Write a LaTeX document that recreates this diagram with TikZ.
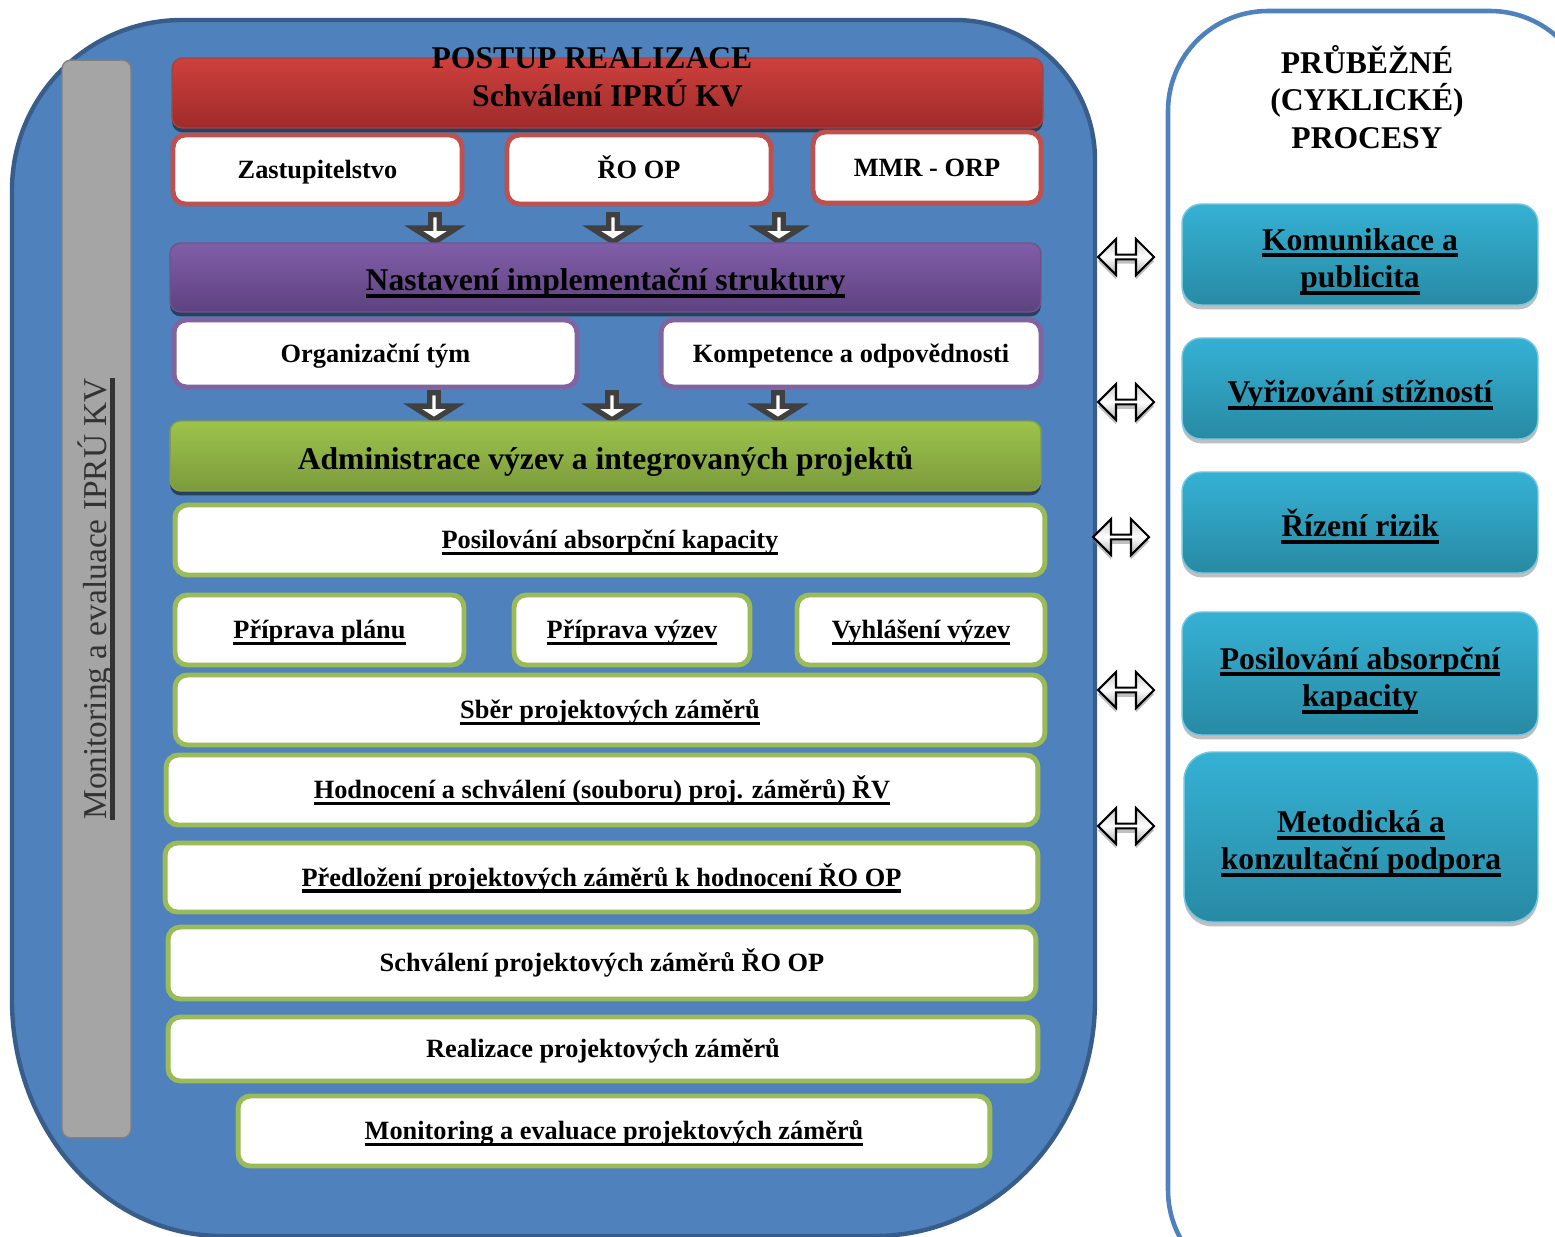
\documentclass[tikz,border=0pt]{standalone}
\usepackage{fontspec}
\setmainfont{Liberation Serif}
\usetikzlibrary{shapes.arrows,shadows}

\definecolor{bgblue}{RGB}{79,129,189}
\definecolor{bgborder}{RGB}{56,93,138}
\definecolor{redtop}{RGB}{206,64,61}
\definecolor{redbot}{RGB}{158,43,42}
\definecolor{redline}{RGB}{192,80,77}
\definecolor{purtop}{RGB}{128,94,168}
\definecolor{purbot}{RGB}{94,66,128}
\definecolor{purline}{RGB}{128,100,162}
\definecolor{grntop}{RGB}{157,196,76}
\definecolor{grnbot}{RGB}{124,154,60}
\definecolor{grnline}{RGB}{155,187,89}
\definecolor{cyantop}{RGB}{53,177,212}
\definecolor{cyanbot}{RGB}{40,138,164}
\definecolor{barfill}{RGB}{165,165,165}
\definecolor{arrowdark}{RGB}{64,64,64}

\newcommand{\undl}[1]{\leavevmode\setbox0\hbox{#1}\rlap{\rule[-0.23em]{\wd0}{0.13em}}\box0}
% fixed line height, so the text sits where the boxes want it
\newcommand{\tx}[1]{\vrule width 0pt height \txh depth \txd\relax\smash{#1}}

\begin{document}
\begin{tikzpicture}[x=0.02cm, y=-0.02cm, every text node part/.style={align=center},
bigtxt/.style={font=\fontsize{18}{21.3}\selectfont\bfseries},
headtxt/.style={font={\fontsize{18}{21.3}\selectfont\bfseries\def\txh{0.96em}\def\txd{0.12em}}},
cyantxt/.style={font={\fontsize{18}{21.3}\selectfont\bfseries\def\txh{0.98em}\def\txd{0.08em}}},
boxtxt/.style={font={\fontsize{15}{18}\selectfont\bfseries\def\txh{0.84em}\def\txd{0.16em}}},
lowshadow/.style={drop shadow={shadow xshift=0pt, shadow yshift=-2.5pt, opacity=0.5, fill=#1}},
lowshadow/.default=black,
headbox/.style={headtxt, rounded corners=6pt, minimum width=17.42cm, minimum height=1.4cm, line width=0.8pt, lowshadow},
redbox/.style={headbox, top color=redtop, bottom color=redbot, draw=redline!85!black},
purbox/.style={headbox, top color=purtop, bottom color=purbot, draw=purline!85!black, minimum height=1.38cm},
grnbox/.style={headbox, top color=grntop, bottom color=grnbot, draw=grnline!85!black},
whitebox/.style={boxtxt, fill=white, draw=#1, line width=2.8pt, rounded corners=7pt, minimum height=1.38cm},
cyanbox/.style={cyantxt, rounded corners=11pt, top color=cyantop, bottom color=cyanbot, draw=cyantop!70!white, line width=0.8pt, minimum width=7.12cm, lowshadow=gray},
downarr/.style={single arrow, shape border rotate=270, draw=arrowdark, fill=white, line width=3pt, minimum height=0.54cm, minimum width=0.86cm, single arrow head extend=0.22cm, single arrow tip angle=115, inner sep=0pt},
dblarr/.style={double arrow, draw=black, line width=1.2pt, top color=gray!40, bottom color=gray!65, middle color=white, minimum height=1.12cm, minimum width=0.72cm, double arrow head extend=0.14cm, inner sep=0pt, lowshadow=gray}]

\useasboundingbox (0,0) rectangle (1555,1237);
\clip (0,0) rectangle (1555,1237);

% big blue area
\draw[fill=bgblue, draw=bgborder, line width=2.5pt] (12,190) arc[start angle=180, end angle=270, radius=170] -- (955,20) arc[start angle=270, end angle=360, radius=140] -- (1095,1000) arc[start angle=0, end angle=90, x radius=220, y radius=236] -- (222,1236) arc[start angle=90, end angle=180, x radius=210, y radius=236] -- cycle;
% right panel
\draw[draw=bgblue, line width=2.6pt, fill=white, rounded corners=2cm] (1168,11) rectangle (1590,1290);

\node[rotate=90, fill=barfill, draw=gray, line width=0.8pt, rounded corners=5pt, minimum width=21.56cm, minimum height=1.38cm, font=\fontsize{19}{22}\selectfont, text=black!80] (bar) at (96.5,599) {\undl{Monitoring a evaluace IPRÚ KV}};

\node[redbox] (approve) at (607.5,93) {\tx{Schválení IPRÚ KV}};
\node[bigtxt] (title) at (592,58) {POSTUP REALIZACE};
\node[whitebox=redline, minimum width=5.78cm] (council) at (317.5,169.5) {\tx{Zastupitelstvo}};
\node[whitebox=redline, minimum width=5.28cm] (ro) at (639,169.5) {\tx{ŘO OP}};
\node[whitebox=redline, minimum width=4.56cm, minimum height=1.42cm] (mmr) at (927,167.5) {\tx{MMR - ORP}};
\foreach \x [count=\i] in {435,613,779}
  \node[downarr] (up\i) at (\x,227) {};

\node[purbox] (impl) at (605.5,277.5) {\tx{\undl{Nastavení implementační struktury}}};
\node[whitebox=purline, minimum width=8.06cm, minimum height=1.34cm] (team) at (375.5,353.5) {\tx{Organizační tým}};
\node[whitebox=purline, minimum width=7.6cm, minimum height=1.34cm] (compet) at (851,353.5) {\tx{Kompetence a odpovědnosti}};
\foreach \x [count=\i] in {434,612,778}
  \node[downarr] (mid\i) at (\x,405) {};

\node[grnbox] (admin) at (605.5,456) {\tx{Administrace výzev a integrovaných projektů}};
\node[whitebox=grnline, minimum width=17.4cm, minimum height=1.4cm] (capac) at (610,540) {\tx{\undl{Posilování absorpční kapacity}}};
\node[whitebox=grnline, minimum width=5.78cm, minimum height=1.4cm] (plan) at (319.5,630) {\tx{\undl{Příprava plánu}}};
\node[whitebox=grnline, minimum width=4.72cm, minimum height=1.4cm] (prep) at (632,630) {\tx{\undl{Příprava výzev}}};
\node[whitebox=grnline, minimum width=4.96cm, minimum height=1.4cm] (call) at (921,630) {\tx{\undl{Vyhlášení výzev}}};
\node[whitebox=grnline, minimum width=17.4cm, minimum height=1.4cm] (collect) at (610,710) {\tx{\undl{Sběr projektových záměrů}}};
\node[whitebox=grnline, minimum width=17.44cm, minimum height=1.4cm] (rate) at (602,790) {\tx{\undl{Hodnocení a schválení (souboru) proj. záměrů) ŘV}}};
\node[whitebox=grnline, minimum width=17.46cm, minimum height=1.38cm] (submit) at (601.5,877.5) {\tx{\undl{Předložení projektových záměrů k hodnocení ŘO OP}}};
\node[whitebox=grnline, minimum width=17.36cm, minimum height=1.44cm] (accept) at (602,963) {\tx{Schválení projektových záměrů ŘO OP}};
\node[whitebox=grnline, minimum width=17.4cm, minimum height=1.28cm] (run) at (603,1049) {\tx{Realizace projektových záměrů}};
\node[whitebox=grnline, minimum width=15.04cm, minimum height=1.4cm] (eval) at (614,1131) {\tx{\undl{Monitoring a evaluace projektových záměrů}}};

% cyclic processes
\node[bigtxt] (cycle) at (1367,97) {PRŮBĚŽNÉ\\(CYKLICKÉ)\\PROCESY};
\node[cyanbox, minimum height=2.02cm] (comm) at (1360,254.5) {\tx{\undl{Komunikace a}}\\\tx{\undl{publicita}}};
\node[cyanbox, minimum height=2.02cm] (compl) at (1360,388.5) {\tx{\undl{Vyřizování stížností}}};
\node[cyanbox, minimum height=2.02cm] (risk) at (1360,522.5) {\tx{\undl{Řízení rizik}}};
\node[cyanbox, minimum height=2.46cm] (absorb) at (1360,673.5) {\tx{\undl{Posilování absorpční}}\\\tx{\undl{kapacity}}};
\node[cyanbox, minimum width=7.08cm, minimum height=3.4cm, rounded corners=16pt] (method) at (1361,837) {\tx{\undl{Metodická a}}\\\tx{\undl{konzultační podpora}}};

\node[dblarr] (link1) at (1126,257) {};
\node[dblarr] (link2) at (1126,402) {};
\node[dblarr] (link3) at (1121,537) {};
\node[dblarr] (link4) at (1126,690) {};
\node[dblarr] (link5) at (1126,826) {};
\end{tikzpicture}
\end{document}
